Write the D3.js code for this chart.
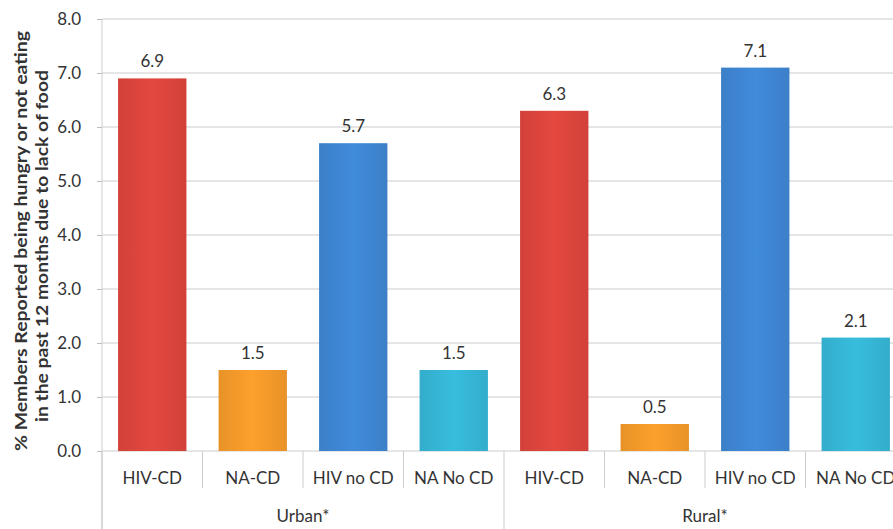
<!DOCTYPE html>
<html><head><meta charset="utf-8">
<script src="https://cdn.jsdelivr.net/npm/d3@7"></script>
<style>body{margin:0;background:#fff;overflow:hidden}svg{display:block}text{font-family:Lato,"Open Sans",sans-serif;fill:#333}</style>
</head><body>
<script>
const groups = ["Urban*", "Rural*"];
const categories = ["HIV-CD", "NA-CD", "HIV no CD", "NA No CD"];
const values = [[6.9, 1.5, 5.7, 1.5], [6.3, 0.5, 7.1, 2.1]];
const yTicks = [0, 1, 2, 3, 4, 5, 6, 7, 8];
const yTitleLines = ["% Members Reported being hungry or not eating", "in the past 12 months  due to lack of food"];
const colors = ["#dc453c", "#f49a2a", "#3f86d3", "#36b6d6"];

(function () {
const W = 893, H = 529;
const svg = d3.select("body").append("svg").attr("width", W).attr("height", H);
const mLeft = 102, mTop = 19, mBottom = 451, slotW = 100.5;
const rows = [];
groups.forEach((g, gi) => categories.forEach((c, ci) => rows.push({g, gi, c, ci, v: values[gi][ci], key: gi + "_" + ci})));

const x = d3.scaleBand().domain(rows.map(d => d.key)).range([mLeft, mLeft + slotW * rows.length]).paddingInner(0.32).paddingOuter(0.16);
const y = d3.scaleLinear().domain([0, 8]).range([mBottom, mTop]);

const defs = svg.append("defs");
colors.forEach((c, i) => {
  const gr = defs.append("linearGradient").attr("id", "g" + i).attr("x1", 0).attr("x2", 1).attr("y1", 0).attr("y2", 0);
  gr.append("stop").attr("offset", "0%").attr("stop-color", d3.color(c).darker(0.15));
  gr.append("stop").attr("offset", "50%").attr("stop-color", d3.color(c).brighter(0.1));
  gr.append("stop").attr("offset", "100%").attr("stop-color", d3.color(c).darker(0.15));
});

svg.append("g").selectAll("line").data(yTicks).join("line")
  .attr("x1", mLeft).attr("x2", W).attr("y1", d => y(d)).attr("y2", d => y(d))
  .attr("stroke", "#cccccc").attr("stroke-width", 1);

const yAxis = svg.append("g").attr("transform", `translate(${mLeft},0)`)
  .call(d3.axisLeft(y).tickValues(yTicks).tickFormat(d3.format(".1f")).tickSize(5).tickPadding(16));
yAxis.select(".domain").remove();
yAxis.selectAll(".tick line").attr("stroke", "#bbb");
yAxis.selectAll(".tick text").style("font-size", "17px").attr("fill", "#404040");
svg.append("line").attr("x1", mLeft).attr("x2", mLeft).attr("y1", mTop).attr("y2", H).attr("stroke", "#cccccc");

svg.append("g").selectAll("rect").data(rows).join("rect")
  .attr("x", d => x(d.key)).attr("width", x.bandwidth())
  .attr("y", d => y(d.v)).attr("height", d => y(0) - y(d.v))
  .attr("fill", d => `url(#g${d.ci})`);

svg.append("g").selectAll("text").data(rows).join("text")
  .attr("x", d => x(d.key) + x.bandwidth() / 2).attr("y", d => y(d.v) - 11)
  .attr("text-anchor", "middle").style("font-size", "17px").text(d => d.v.toFixed(1));

svg.append("g").selectAll("line").data(d3.range(rows.length + 1)).join("line")
  .attr("x1", i => mLeft + i * slotW).attr("x2", i => mLeft + i * slotW)
  .attr("y1", mBottom).attr("y2", i => i % 4 === 0 ? H : 488)
  .attr("stroke", "#cccccc");

svg.append("g").selectAll("text").data(rows).join("text")
  .attr("x", d => x(d.key) + x.bandwidth() / 2).attr("y", 484)
  .attr("text-anchor", "middle").style("font-size", "17px").text(d => d.c);

svg.append("g").selectAll("text").data(groups).join("text")
  .attr("x", (g, i) => mLeft + slotW * (i * 4 + 2)).attr("y", 522)
  .attr("text-anchor", "middle").style("font-size", "17px").text(g => g);

const titlePos = [{cy: 241, bx: 27, len: 420}, {cy: 246, bx: 48, len: 352}];
svg.append("g").selectAll("text").data(yTitleLines).join("text")
  .attr("transform", (t, i) => `translate(${titlePos[i].bx},${titlePos[i].cy}) rotate(-90)`)
  .attr("text-anchor", "middle").style("font-size", "17.5px").style("font-weight", "bold")
  .attr("textLength", (t, i) => titlePos[i].len).attr("lengthAdjust", "spacingAndGlyphs")
  .text(t => t);
})();
</script>
</body></html>
